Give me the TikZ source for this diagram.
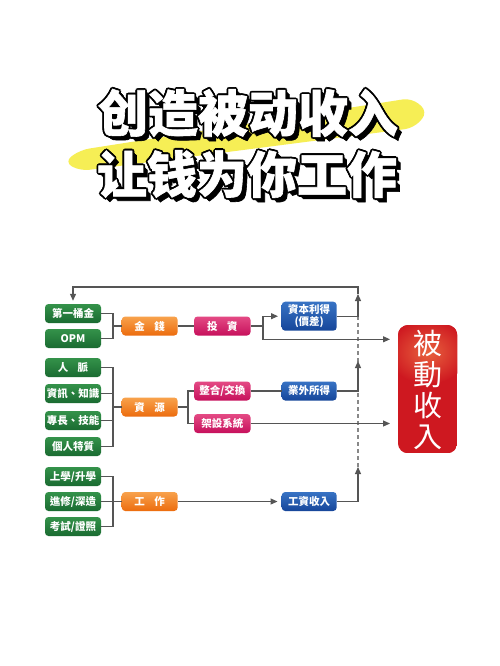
\documentclass[tikz,border=0pt]{standalone}
\usepackage{fontspec}
\usetikzlibrary{arrows.meta,calc}
\newfontfamily\scfont{Noto Sans CJK SC}[BoldFeatures={FakeBold=1.2}]
\newfontfamily\tcfont{Noto Sans CJK TC}
\definecolor{lnc}{HTML}{555555}
\definecolor{ylw}{HTML}{F6EE55}
\definecolor{gtop}{HTML}{34924A}
\definecolor{gbot}{HTML}{1A6B31}
\definecolor{otop}{HTML}{F8A24C}
\definecolor{obot}{HTML}{EC6C0E}
\definecolor{ptop}{HTML}{E44A84}
\definecolor{pbot}{HTML}{C6105C}
\definecolor{btop}{HTML}{3873C4}
\definecolor{bbot}{HTML}{16469A}
\definecolor{rmain}{HTML}{CE1820}
\definecolor{rglow}{HTML}{E8623E}
\newcommand\ttlline[4]{%
  \foreach \dx/\dy in {2.5/2.5,3.5/3.5,4.3/4.3}
    \node[tfont,text=black] at (#1+\dx,#2+\dy) {#3};
  \foreach \a in {0,45,...,315}
    \node[tfont,text=black] at ($(#1,#2)+(\a:1.9)$) {#3};
  \node[tfont,text=white] (#4) at (#1,#2) {#3};}
\begin{document}
\begin{tikzpicture}[x=1pt,y=-1pt,
  tfont/.style={font=\scfont\bfseries\fontsize{50}{52}\selectfont,inner sep=0pt},
  boxbase/.style={rounded corners=3.5pt,text=white,inner sep=0pt,
    font=\tcfont\bfseries\fontsize{10.5}{12.5}\selectfont,align=center,
    minimum height=19,minimum width=56},
  gbox/.style={boxbase,top color=gtop,bottom color=gbot},
  obox/.style={boxbase,top color=otop,bottom color=obot},
  pbox/.style={boxbase,top color=ptop,bottom color=pbot,minimum width=56.5},
  bbox/.style={boxbase,top color=btop,bottom color=bbot,minimum width=55},
  ln/.style={draw=lnc,line width=1.1pt},
  arr/.style={ln,-{Triangle[length=7pt,width=6pt]}},
  dsh/.style={draw=lnc!70,line width=1.1pt,dash pattern=on 4pt off 3pt}]
\useasboundingbox (0,0) rectangle (500,666);
\fill[white] (0,0) rectangle (500,666);
% yellow brush stroke
\fill[ylw,rounded corners=9pt] (64,162) -- (80,150) -- (412,98) -- (428,112) -- (414,128) -- (80,171) -- cycle;
% title
\ttlline{248}{113}{创造被动收入}{t1}
\ttlline{247}{174}{让钱为你工作}{t2}
% green boxes
\node[gbox] (g1) at (73,313.5) {第一桶金};
\node[gbox] (g2) at (73,338.5) {OPM};
\node[gbox] (g3) at (73,367.5) {人\hspace{0.9em}脈};
\node[gbox] (g4) at (73,393.5) {資訊、知識};
\node[gbox] (g5) at (73,420.5) {專長、技能};
\node[gbox] (g6) at (73,446.5) {個人特質};
\node[gbox] (g7) at (73,476.5) {上學/升學};
\node[gbox] (g8) at (73,501.5) {進修/深造};
\node[gbox] (g9) at (73,526.5) {考試/證照};
% orange
\node[obox] (o1) at (149.7,326) {金\hspace{0.9em}錢};
\node[obox] (o2) at (149.7,407) {資\hspace{0.9em}源};
\node[obox] (o3) at (149.7,501.5) {工\hspace{0.9em}作};
% pink
\node[pbox] (p1) at (222.3,326) {投\hspace{0.9em}資};
\node[pbox] (p2) at (222.3,391) {整合/交換};
\node[pbox] (p3) at (222.3,423.5) {架設系統};
% blue
\node[bbox,minimum height=29] (b1) at (309.2,316.2) {資本利得\\(價差)};
\node[bbox] (b2) at (309.2,391) {業外所得};
\node[bbox] (b3) at (309.2,501.5) {工資收入};
% red
\begin{scope}
\path[clip,rounded corners=10pt] (398,325) rectangle (457.3,453.3);
\fill[rmain] (398,325) rectangle (457.3,453.3);
\shade[inner color=rglow,outer color=rmain] (427.7,352) ellipse (40 and 32);
\end{scope}
\node[text=white,inner sep=0pt,align=center,font=\tcfont\fontsize{29}{31}\selectfont] (r) at (427.7,389.5) {被\\動\\收\\入};
% junction coordinates
\coordinate (j1) at (113,326);
\coordinate (j2) at (263,326);
\coordinate (j3) at (113,407);
\coordinate (j4) at (188,407);
\coordinate (j5) at (113,501.5);
\coordinate (tt) at (358,287);
\coordinate (tm1) at (358,294);
\coordinate (tm2) at (358,361);
\coordinate (tm3) at (358,467);
\coordinate (tb) at (358,502);
\coordinate (tu) at (358,316.2);
\coordinate (ra) at (390,339.3);
\coordinate (rb) at (390,423.5);
% dashed trunk
\draw[dsh] (tu) -- (tb);
% money group
\draw[ln] (g1.east) -| (j1);
\draw[ln] (g2.east) -| (j1);
\draw[ln] (j1) -- (o1.west);
\draw[ln] (o1.east) -- (p1.west);
\draw[ln] (p1.east) -- (j2);
\draw[arr,shorten >=3.5pt] (j2) |- (b1.west);
\draw[arr] (j2) |- (ra);
\draw[arr] (b1.east) -| (tm1);
\draw[arr,shorten >=3pt] (tm1) -- (tt) -| (g1.north);
% resource group
\foreach \n in {g3,g4,g5,g6} \draw[ln] (\n.east) -| (j3);
\draw[ln] (j3) -- (o2.west);
\draw[ln] (o2.east) -- (j4);
\draw[ln] (j4) |- (p2.west);
\draw[ln] (j4) |- (p3.west);
\draw[ln] (p2.east) -- (b2.west);
\draw[arr] (b2.east) -| (tm2);
\draw[arr] (p3.east) -- (rb);
% work group
\foreach \n in {g7,g8,g9} \draw[ln] (\n.east) -| (j5);
\draw[ln] (j5) -- (o3.west);
\draw[arr,shorten >=4pt] (o3.east) -- (b3.west);
\draw[arr] (b3.east) -| (tm3);
\end{tikzpicture}
\end{document}
